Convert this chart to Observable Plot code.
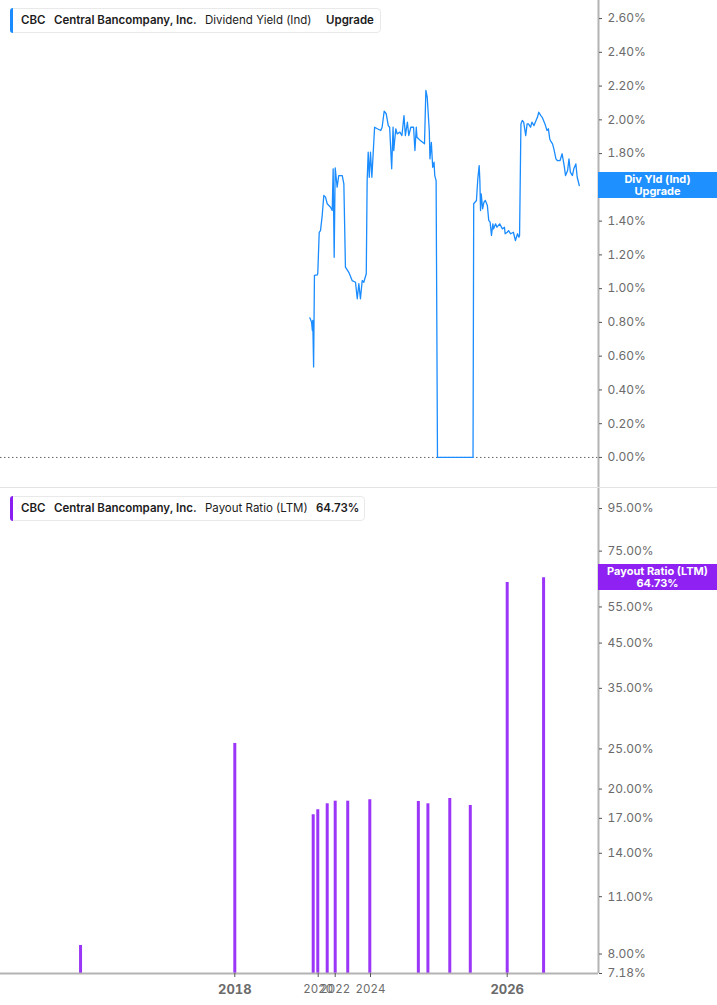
<!DOCTYPE html>
<html>
<head>
<meta charset="utf-8">
<script src="https://cdn.jsdelivr.net/npm/d3@7"></script>
<script src="https://cdn.jsdelivr.net/npm/@observablehq/plot@0.6"></script>
<style>
  html, body { margin: 0; padding: 0; background: #fff; }
  #wrap { position: relative; width: 717px; height: 1005px; overflow: hidden; font-family: Inter, "Noto Sans", sans-serif; }
  #wrap svg { display: block; }
  .pane { position: absolute; left: 0; }
  .legend { position: absolute; left: 10px; height: 25px; background: #fff; border: 1px solid #e9e9e9; border-radius: 4px; box-sizing: border-box; }
  .legend .bar { position: absolute; left: -1px; top: -1px; bottom: -1px; width: 3px; border-radius: 3px 0 0 3px; }
  .legend span.t { position: absolute; top: 0; line-height: 23px; font-size: 11.5px; color: #1c1c1c; white-space: nowrap; }
  .legend span.b { font-weight: 600; }
  .valbox { position: absolute; left: 598px; width: 119px; height: 26px; color: #fff; font-weight: 700; font-size: 11px; line-height: 12px; text-align: center; padding-top: 1px; box-sizing: border-box; }
  .sep { position: absolute; left: 0; width: 717px; height: 1px; background: #e3e3e3; }
</style>
</head>
<body>
<div id="wrap"></div>
<script>
// ---- Data ----
// Dividend Yield (Ind), % — time in decimal years
const yieldT = [2019.80,2019.84,2019.86,2019.87,2019.89,2019.91,2019.98,2019.99,2020.12,2020.27,2020.47,2020.66,2020.86,2021.06,2021.45,2021.65,2021.76,2021.88,2022.00,2022.11,2022.20,2022.40,2022.49,2022.58,2022.77,2022.96,2023.15,2023.25,2023.34,2023.43,2023.53,2023.62,2023.76,2023.81,2023.87,2023.93,2024.00,2024.02,2024.04,2024.06,2024.10,2024.15,2024.17,2024.20,2024.23,2024.26,2024.28,2024.31,2024.33,2024.34,2024.37,2024.39,2024.43,2024.46,2024.49,2024.51,2024.54,2024.56,2024.59,2024.63,2024.65,2024.67,2024.68,2024.73,2024.79,2024.81,2024.83,2024.86,2024.87,2024.89,2024.91,2024.93,2024.94,2024.96,2024.98,2025.50,2025.51,2025.55,2025.57,2025.59,2025.60,2025.61,2025.62,2025.64,2025.66,2025.68,2025.71,2025.73,2025.75,2025.77,2025.79,2025.80,2025.83,2025.85,2025.89,2025.93,2025.96,2025.97,2026.00,2026.02,2026.05,2026.09,2026.12,2026.15,2026.17,2026.18,2026.20,2026.22,2026.24,2026.27,2026.29,2026.31,2026.34,2026.36,2026.39,2026.42,2026.44,2026.46,2026.49,2026.51,2026.55,2026.58,2026.60,2026.62,2026.63,2026.66,2026.68,2026.71,2026.73,2026.77,2026.80,2026.83,2026.85,2026.88,2026.90,2026.92,2026.95,2026.97,2027.00,2027.02,2027.05];
const yieldV = [0.827,0.803,0.752,0.812,0.536,1.078,1.082,1.092,1.334,1.344,1.433,1.552,1.542,1.503,1.482,1.463,1.710,1.186,1.716,1.601,1.670,1.670,1.621,1.127,1.097,1.048,1.038,0.940,1.029,0.940,1.048,1.038,1.088,1.640,1.808,1.660,1.808,1.660,1.808,1.956,1.947,1.937,1.956,2.051,2.036,1.966,1.956,1.710,1.956,1.818,1.947,1.917,1.927,1.907,2.025,1.907,1.986,1.907,1.956,1.956,1.818,1.956,1.897,1.877,1.858,2.174,2.134,1.937,1.769,1.867,1.719,1.749,1.670,1.640,0,0,1.503,1.522,1.651,1.729,1.640,1.463,1.562,1.473,1.512,1.522,1.492,1.404,1.394,1.315,1.384,1.354,1.384,1.364,1.384,1.354,1.364,1.325,1.334,1.344,1.325,1.334,1.285,1.325,1.305,1.315,1.976,1.996,1.986,1.907,1.976,1.976,1.956,1.986,1.966,1.996,2.015,2.045,2.025,2.015,1.976,1.937,1.947,1.887,1.877,1.858,1.828,1.769,1.759,1.759,1.799,1.729,1.670,1.700,1.769,1.690,1.670,1.710,1.739,1.660,1.611];

// Payout Ratio (LTM), %
const payoutT = [2014.30,2018.00,2019.88,2019.99,2021.06,2022.00,2022.71,2023.96,2024.70,2024.84,2025.16,2025.46,2026.00,2026.53];
const payoutV = [8.39,25.77,17.34,17.83,18.43,18.70,18.70,18.85,18.67,18.43,18.98,18.26,63.0,64.73];

// Tick labels
const yieldTicks = [0,0.2,0.4,0.6,0.8,1.0,1.2,1.4,1.6,1.8,2.0,2.2,2.4,2.6];
const payoutTicks = [7.18,8,11,14,17,20,25,35,45,55,75,95];
const yearMajor = [2018, 2026];
const yearMinor = [2020, 2022, 2024];

// ---- Build ----
const yieldData = yieldT.map((t, i) => ({t, v: yieldV[i]}));
const payoutData = payoutT.map((t, i) => ({t, v: payoutV[i]}));

const BLUE = "#1a8cff";
const PURPLE = "#9b35f7";
const AXIS = "#b3b3b3";
const W = 717;

// piecewise (compressed) time axis
const xDomain = [2012.38, 2018, 2020, 2022, 2024, 2026, 2027.33];
const xRange = [0, 234.3, 317.7, 334.7, 370, 506.7, 598];
const xEnd = xDomain[xDomain.length - 1];
const pct = d => d.toFixed(2) + "%";

const topChart = Plot.plot({
  width: W, height: 487,
  marginLeft: 0, marginRight: W - 598, marginTop: 0, marginBottom: 0,
  style: {fontFamily: "Inter, 'Noto Sans', sans-serif", fontSize: "12px", color: "#555", background: "transparent"},
  x: {type: "linear", domain: xDomain, range: xRange, axis: null, label: null},
  y: {domain: [-0.178, 2.707], axis: null, label: null},
  marks: [
    Plot.ruleY([0], {stroke: "#666", strokeDasharray: "1.5,2.5", strokeWidth: 1}),
    Plot.line(yieldData, {x: "t", y: "v", stroke: BLUE, strokeWidth: 1.3}),
    Plot.ruleX([xEnd], {stroke: AXIS, strokeWidth: 2}),
    Plot.axisY(yieldTicks, {anchor: "right", label: null, tickFormat: pct, tickSize: 3, tickPadding: 6, fill: "#6b6b6b", fontSize: 12})
  ]
});

const botChart = Plot.plot({
  width: W, height: 518,
  marginLeft: 0, marginRight: W - 598, marginTop: 0, marginBottom: 32,
  style: {fontFamily: "Inter, 'Noto Sans', sans-serif", fontSize: "12px", color: "#555", background: "transparent"},
  x: {type: "linear", domain: xDomain, range: xRange, axis: null, label: null},
  y: {type: "log", domain: [7.18, 106.8], axis: null, label: null},
  marks: [
    Plot.ruleX(payoutData, {x: "t", y1: 7.18, y2: "v", stroke: PURPLE, strokeWidth: 3}),
    Plot.ruleY([7.18], {stroke: AXIS, strokeWidth: 2}),
    Plot.ruleX([xEnd], {stroke: AXIS, strokeWidth: 2}),
    Plot.axisY(payoutTicks, {anchor: "right", label: null, tickFormat: pct, tickSize: 3, tickPadding: 6, fill: "#6b6b6b", fontSize: 12}),
    Plot.axisX(yearMajor, {anchor: "bottom", label: null, tickFormat: d => String(d), tickSize: 4, tickPadding: 7, fontWeight: "bold", fontSize: 13, fill: "#6b6b6b"}),
    Plot.axisX(yearMinor, {anchor: "bottom", label: null, tickFormat: d => String(d), tickSize: 4, tickPadding: 7, fontSize: 11.5, fill: "#6b6b6b"})
  ]
});

const wrap = document.getElementById("wrap");
const p1 = document.createElement("div"); p1.className = "pane"; p1.style.top = "0px"; p1.appendChild(topChart);
const p2 = document.createElement("div"); p2.className = "pane"; p2.style.top = "487px"; p2.appendChild(botChart);
wrap.appendChild(p1); wrap.appendChild(p2);

const sep = document.createElement("div"); sep.className = "sep"; sep.style.top = "487px";
wrap.appendChild(sep);

function legend(top, width, color, parts) {
  const d = document.createElement("div");
  d.className = "legend";
  d.style.top = top + "px";
  d.style.width = width + "px";
  const bar = document.createElement("div"); bar.className = "bar"; bar.style.background = color;
  d.appendChild(bar);
  for (const [text, left, bold] of parts) {
    const s = document.createElement("span");
    s.className = "t" + (bold ? " b" : "");
    s.style.left = (left - 10) + "px";
    s.textContent = text;
    d.appendChild(s);
  }
  wrap.appendChild(d);
}
legend(8, 371, BLUE, [["CBC", 20, true], ["Central Bancompany, Inc.", 53, true], ["Dividend Yield (Ind)", 204, false], ["Upgrade", 325, true]]);
legend(496, 355, "#8a1ef2", [["CBC", 20, true], ["Central Bancompany, Inc.", 53, true], ["Payout Ratio (LTM)", 204, false], ["64.73%", 315, true]]);

function valbox(yc, color, lines) {
  const d = document.createElement("div");
  d.className = "valbox";
  d.style.top = (yc - 13) + "px";
  d.style.background = color;
  d.innerHTML = lines.map(l => l.replace(/&/g, "&amp;").replace(/</g, "&lt;")).join("<br>");
  wrap.appendChild(d);
}
const yTop = topChart.scale("y");
const yBot = botChart.scale("y");
valbox(yTop.apply(yieldV[yieldV.length - 1]), "#1e90ff", ["Div Yld (Ind)", "Upgrade"]);
valbox(487 + yBot.apply(payoutV[payoutV.length - 1]), "#8f22f2", ["Payout Ratio (LTM)", payoutV[payoutV.length - 1].toFixed(2) + "%"]);
</script>
</body>
</html>
